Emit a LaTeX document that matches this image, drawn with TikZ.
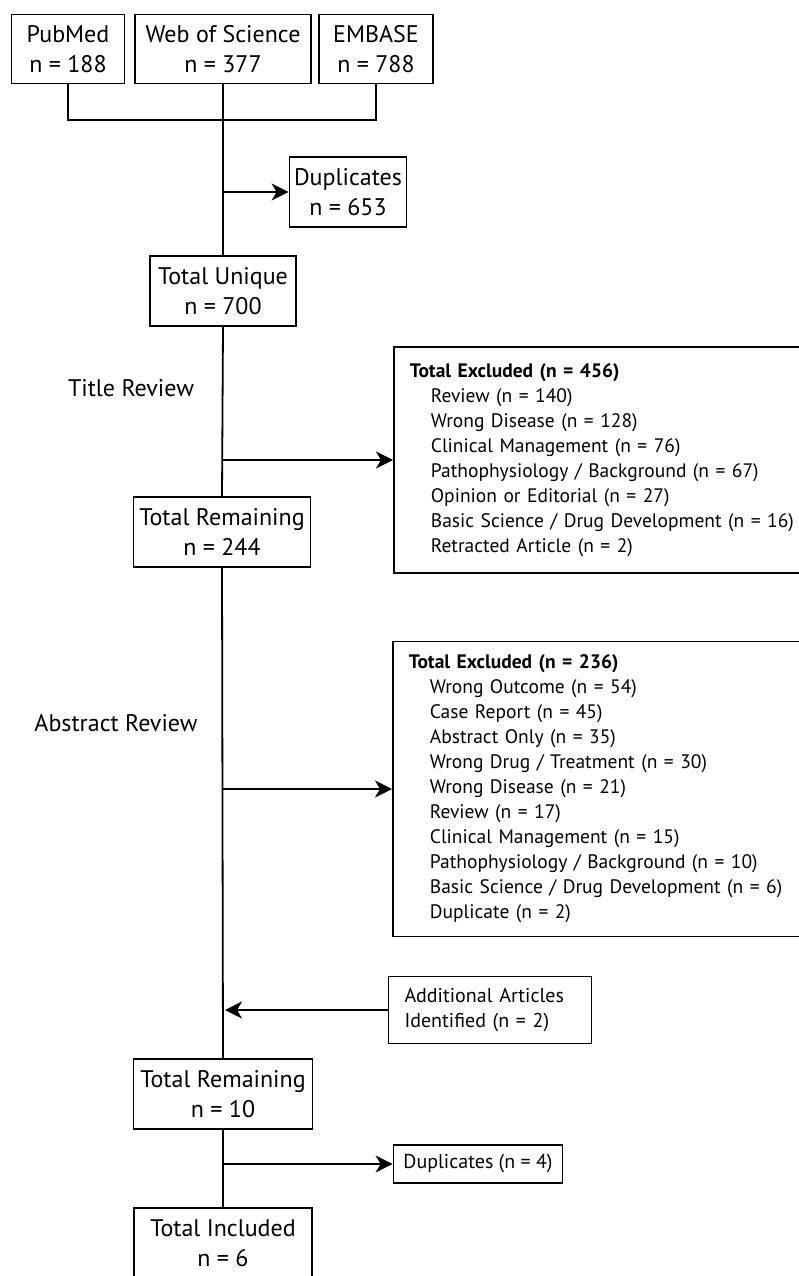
\documentclass[tikz,border=0pt]{standalone}
\usepackage{fontspec}
\setmainfont{PT Sans}
\usetikzlibrary{arrows.meta}

% one indented line of a list of reasons
\newcommand{\reason}[1]{\\\hspace*{21pt}#1}

\begin{document}
\begin{tikzpicture} [x=1pt, y=-1pt, line width=1.8pt,
    box/.style={draw, inner sep=0pt, align=center, font=\fontsize{24}{30}\selectfont},
    listbox/.style={draw, anchor=west, inner xsep=16pt, inner ysep=0pt, text width=430pt,
        align=left, font=\fontsize{19.5}{25}\selectfont},
    smallbox/.style={draw, inner sep=0pt, align=left, font=\fontsize{20}{25}\selectfont},
    steplabel/.style={font=\fontsize{24}{30}\selectfont},
    arrow/.style={-{Stealth[length=17pt,width=17pt,inset=5pt]}}]

    % page size, in pixels of the reference
    \useasboundingbox (0,0) rectangle (799,1276);

    %databases
    \node (pubmed) at (68,49) [box, minimum width=113pt, minimum height=69pt] {PubMed\\n = 188};
    \node (wos) at (223,49) [box, minimum width=176pt, minimum height=69pt] {Web of Science\\n = 377};
    \node (embase) at (376,49) [box, minimum width=114pt, minimum height=69pt] {EMBASE\\n = 788};
    \coordinate (join) at (223,120);

    %main column
    \node (dupA) at (348,192) [box, minimum width=117pt, minimum height=70pt] {Duplicates\\n = 653};
    \node (unique) at (223,291) [box, minimum width=146pt, minimum height=70pt] {Total Unique\\n = 700};
    \node (remA) at (222,532) [box, minimum width=177pt, minimum height=70pt] {Total Remaining\\n = 244};
    \node (remB) at (223,1094) [box, minimum width=179pt, minimum height=70pt] {Total Remaining\\n = 10};
    \node (incl) at (223,1243) [box, minimum width=178pt, minimum height=70pt] {Total Included\\n = 6};

    %review steps
    \node (title) at (131,388) [steplabel] {Title Review};
    \node (abstract) at (116,723) [steplabel] {Abstract Review};

    %excluded lists
    \node (exclA) at (393,460) [listbox, minimum height=226pt] {\textbf{Total Excluded (n = 456)}
        \reason{Review (n = 140)}
        \reason{Wrong Disease (n = 128)}
        \reason{Clinical Management (n = 76)}
        \reason{Pathophysiology / Background (n = 67)}
        \reason{Opinion or Editorial (n = 27)}
        \reason{Basic Science / Drug Development (n = 16)}
        \reason{Retracted Article (n = 2)}};
    \node (exclB) at (392,789) [listbox, minimum height=295pt] {\textbf{Total Excluded (n = 236)}
        \reason{Wrong Outcome (n = 54)}
        \reason{Case Report (n = 45)}
        \reason{Abstract Only (n = 35)}
        \reason{Wrong Drug / Treatment (n = 30)}
        \reason{Wrong Disease (n = 21)}
        \reason{Review (n = 17)}
        \reason{Clinical Management (n = 15)}
        \reason{Pathophysiology / Background (n = 10)}
        \reason{Basic Science / Drug Development (n = 6)}
        \reason{Duplicate (n = 2)}};

    %late additions
    \node (added) at (490,1010) [smallbox, minimum width=203pt, minimum height=67pt,
        text width=171pt, inner xsep=16pt] {Additional Articles\\Identified (n = 2)};
    \node (dupB) at (478,1164) [smallbox, minimum width=169pt, minimum height=38pt] {Duplicates (n = 4)};

    %connectors
    \draw (pubmed.south) |- (join) -| (embase.south);
    \draw (wos.south) -- (unique.north);
    \draw (unique.south) -- (remA.north);
    \draw (remA.south) -- (remB.north);
    \draw (remB.south) -- (incl.north);

    \draw[arrow] (wos |- dupA.west) -- (dupA.west);
    \draw[arrow] (unique |- exclA.west) -- (exclA.west);
    \draw[arrow] (remA |- exclB.west) -- (exclB.west);
    \draw[arrow] (added.west) -- ([xshift=2pt]remB |- added.west);
    \draw[arrow] (remB |- dupB.west) -- (dupB.west);

\end{tikzpicture}
\end{document}
